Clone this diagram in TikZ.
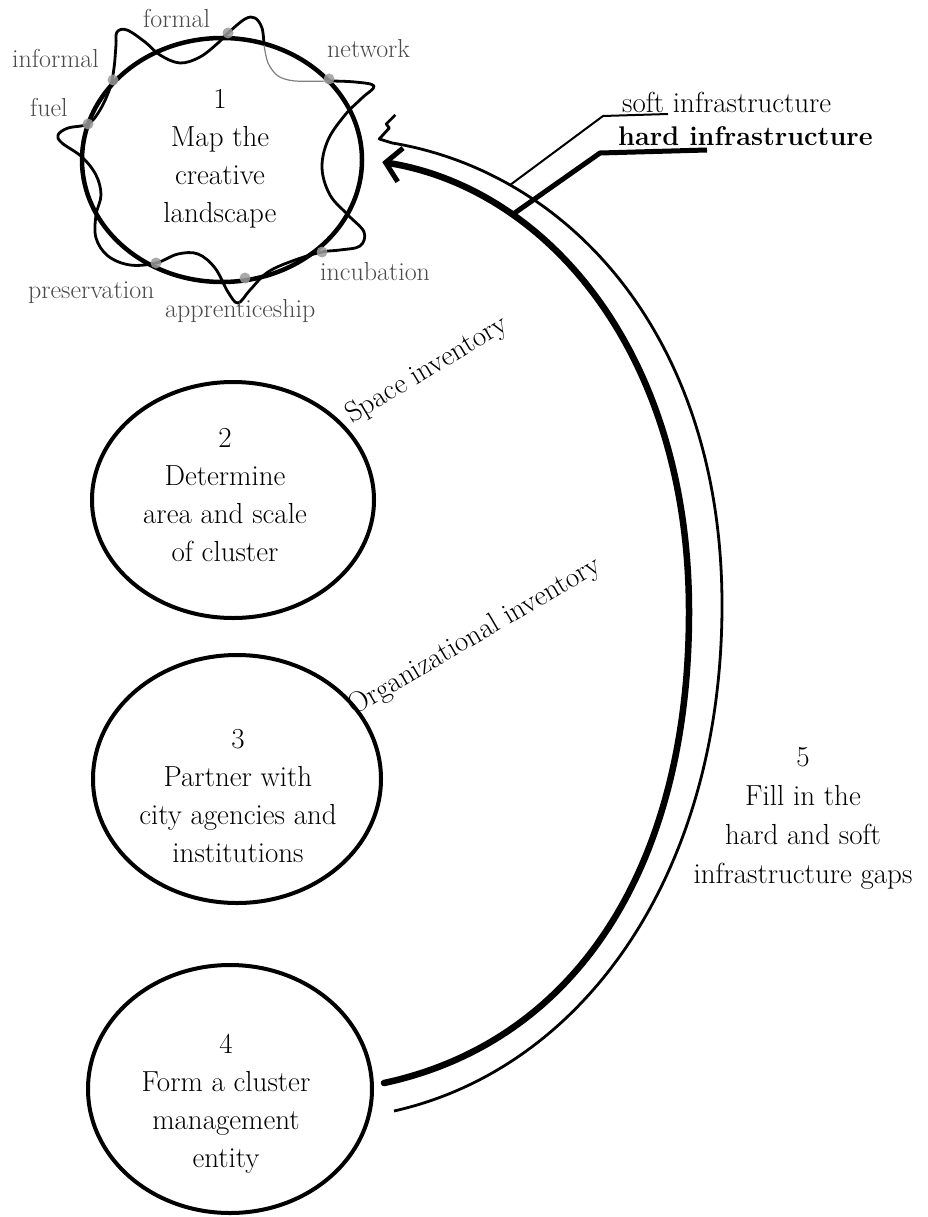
\documentclass[tikz,border=0pt]{standalone}
\usepackage{fontspec}
\usetikzlibrary{shapes.geometric,arrows.meta,calc}
\definecolor{satgrey}{HTML}{4A4A4A}
\definecolor{dotgrey}{HTML}{9A9A9A}
\begin{document}
\begin{tikzpicture}[x=1pt,y=-1pt,
  stage/.style={draw, ellipse, line width=4pt, inner sep=0pt},
  stagetext/.style={align=center, font=\fontsize{29}{38}\selectfont, inner sep=0pt},
  sat/.style={anchor=base west, font=\fontsize{26}{30}\selectfont, text=satgrey, inner sep=0pt},
  rotlabel/.style={anchor=base west, font=\fontsize{29}{34}\selectfont, inner sep=0pt},
  wave/.style={line width=2.8pt, line join=round},
  wavethin/.style={line width=1.2pt, gray},
  satdot/.style={fill=dotgrey, opacity=0.85},
  hardline/.style={line width=6.5pt, line cap=round, -{Straight Barb[length=15pt,width=34pt,line width=5pt]}},
  softline/.style={line width=2.8pt, line join=round},
  hardlead/.style={line width=5pt, line join=round},
  softlead/.style={line width=2pt, line join=round}
]
\fill[white] (0,0) rectangle (927,1217);
\useasboundingbox (0,0) rectangle (927,1217);

% stage ellipses
\node[stage, line width=4.5pt, minimum width=280pt, minimum height=244pt] (c1) at (222,160) {};
\node[stage, minimum width=282pt, minimum height=236pt] (c2) at (233,500) {};
\node[stage, minimum width=288pt, minimum height=248pt] (c3) at (237,779) {};
\node[stage, minimum width=284pt, minimum height=248pt] (c4) at (230,1089) {};

% stage texts
\node[stagetext] (t1) at (220,159) {1\\Map the\\creative\\landscape};
\node[stagetext] (t2) at (225,495) {2\\Determine\\area and scale\\of cluster};
\node[stagetext] (t3) at (238,796) {3\\Partner with\\city agencies and\\institutions};
\node[stagetext] (t4) at (226,1104) {4\\Form a cluster\\management\\entity};
\node[stagetext, font=\fontsize{29}{39}\selectfont] (t5) at (803,818) {5\\Fill in the\\hard and soft\\infrastructure gaps};

% wavy loop around stage 1
\draw[wave] plot[smooth, tension=0.6] coordinates {
 (330,81) (355,82) (374,86) (362,98) (345,115) (328,140) (322,168) (330,195)
 (348,215) (364,232) (360,246) (340,250) (322,252) (295,260) (268,272) (250,290)
 (238,303) (228,292) (215,268) (198,254) (178,254) (156,263) (130,265) (108,256)
 (96,238) (96,215) (101,195) (96,175) (82,157) (62,143) (58,135) (68,128)
 (88,124) (100,110) (110,88) (114,68) (116,45) (117,32) (127,30) (145,42)
 (160,55) (180,63) (200,57) (218,43) (228,33) (245,19) (255,18) (262,28) (264,45)};
\draw[wavethin] plot[smooth] coordinates {(264,45) (268,63) (278,76) (295,81) (330,81)};

% grey points
\foreach \p in {(228,33),(329,79),(113,80),(88,124),(322,252),(156,263),(245,278)}
  \fill[satdot] \p circle (5.5pt);

% satellite labels
\node[sat] (lformal) at (143,28) {formal};
\node[sat] (linformal) at (12,68) {informal};
\node[sat] (lnetwork) at (327,58) {network};
\node[sat] (lfuel) at (30,117) {fuel};
\node[sat] (lincub) at (320,280) {incubation};
\node[sat] (lpres) at (28,298) {preservation};
\node[sat] (lappr) at (165,317) {apprenticeship};

% inventory labels
\node[rotlabel, rotate=31] (space) at (352,424) {Space inventory};
\node[rotlabel, rotate=30.4] (org) at (354,716) {Organizational inventory};

% infrastructure labels
\node[anchor=base west, font=\fontsize{29}{34}\selectfont, inner sep=0pt] (softlbl) at (622,113) {soft infrastructure};
\node[anchor=base west, font=\fontsize{27}{32}\selectfont\bfseries, inner sep=0pt] (hardlbl) at (618,146) {hard infrastructure};

% arcs
\coordinate (hm) at (689,612);
\coordinate (sm) at (722,605);
\draw[softline] ($(c4.east)+(20,22)$) .. controls (585,1068) and (722,872) .. (sm)
  .. controls (722,340) and (572,173) .. coordinate[pos=0.77] (sleg) ($(c1.east)+(28,-17)$)
  -- ++(-13,-4) -- ++(10,-11) -- ++(-3,-4) -- ++(9,-9);
\draw[hardline] ($(c4.east)+(10,-6)$) .. controls (575,1042) and (689,868) .. (hm)
  .. controls (689,350) and (545,188) .. coordinate[pos=0.72] (hleg) ($(c1.east)+(18,2)$);

% leaders
\coordinate (sk) at ($(softlbl.base west)+(-19,3)$);
\coordinate (su) at ($(softlbl.base west)+(46,1)$);
\coordinate (hk) at ($(hardlbl.base west)+(-18,7)$);
\coordinate (hu) at ($(hardlbl.base west)+(89,4)$);
\draw[softlead] (sleg) -- (sk) -- (su);
\draw[hardlead] (hleg) -- (hk) -- (hu);
\end{tikzpicture}
\end{document}
